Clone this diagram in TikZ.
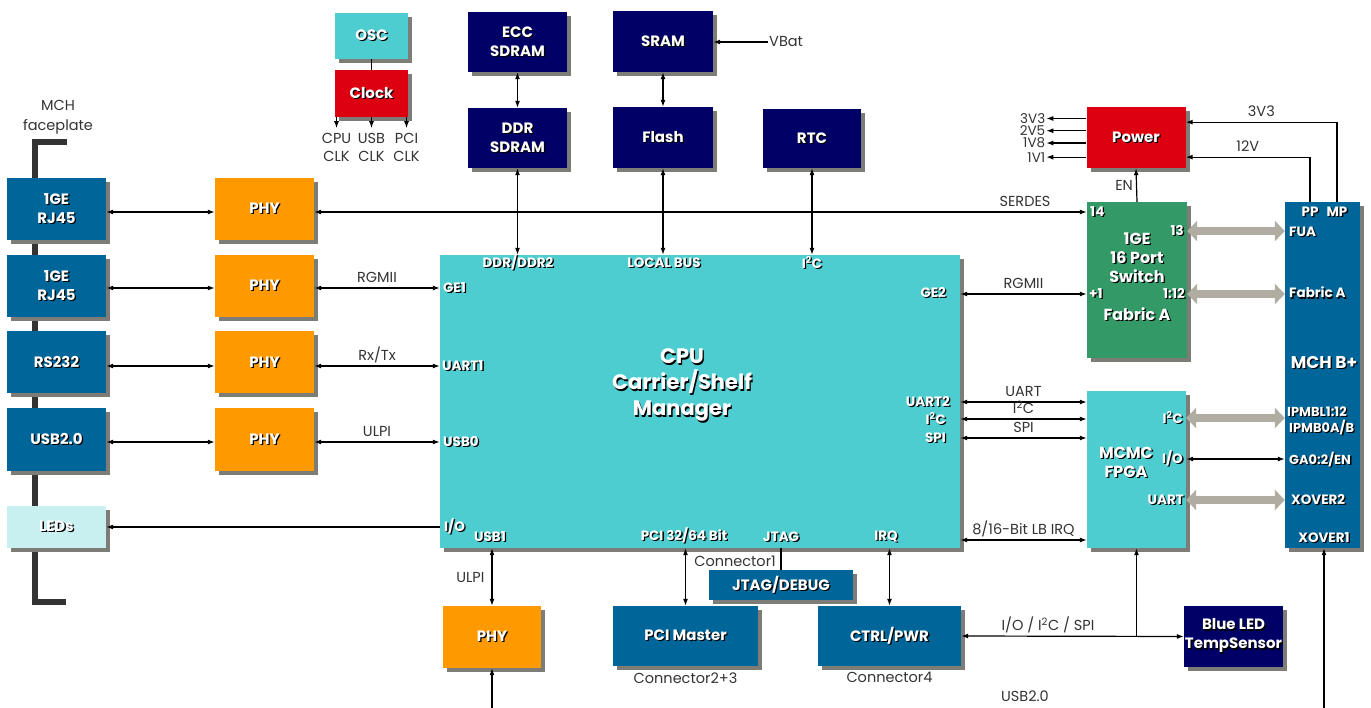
\documentclass[tikz,border=0pt]{standalone}
\usepackage{fontspec}
\setmainfont{Poppins}
\usetikzlibrary{arrows.meta, positioning, calc, shadows}

\definecolor{mchblue}{RGB}{0,102,153}
\definecolor{navybox}{RGB}{0,0,102}
\definecolor{cpucyan}{RGB}{77,205,208}
\definecolor{phyorange}{RGB}{255,153,0}
\definecolor{pwrred}{RGB}{221,0,17}
\definecolor{swgreen}{RGB}{51,153,102}
\definecolor{ledcyan}{RGB}{200,240,240}
\definecolor{shadowgray}{RGB}{125,124,118}
\definecolor{fatgray}{RGB}{176,172,162}
\definecolor{plategray}{RGB}{51,51,51}

% white text with a dark offset copy behind it
\newcommand{\shtxt}[1]{\leavevmode\rlap{\kern1.3pt\raisebox{-1.3pt}{\color{black}#1}}#1}
\newcommand{\boxfont}{\fontsize{15}{19}\selectfont\bfseries}
\newcommand{\titlefont}{\fontsize{16}{19}\selectfont\bfseries}
\newcommand{\portfont}{\fontsize{13.5}{15}\selectfont\bfseries}
\newcommand{\lblfont}{\fontsize{14.5}{18}\selectfont}

\begin{document}
\begin{tikzpicture}[
  x=1pt, y=-1pt,
  blk/.style={rectangle, inner sep=0pt, align=center, text=white, font=\boxfont,
    drop shadow={fill=shadowgray, opacity=1, shadow xshift=4pt, shadow yshift=-4pt}},
  stdbox/.style={blk, minimum width=99pt, minimum height=62pt},
  port/.style={inner sep=1pt, text=white, font=\portfont},
  lbl/.style={inner sep=1pt, text=black!80, font=\lblfont},
  wlbl/.style={lbl, text height=10pt, text depth=3pt},
  wire/.style={line width=1.2pt, -{Latex[length=7pt,width=5pt]}},
  biwire/.style={line width=1.2pt, {Latex[length=7pt,width=5pt]}-{Latex[length=7pt,width=5pt]}},
  fat/.style={line width=8pt, draw=fatgray, {Triangle[length=10pt,width=20pt]}-{Triangle[length=10pt,width=20pt]}}
]
  \useasboundingbox (0,0) rectangle (1371,708);

  % faceplate bracket
  \draw[plategray, line width=6pt] (67,142) -- (34.5,142) -- (34.5,602) -- (66,602);
  \node[lbl, align=center, font=\fontsize{14.5}{20}\selectfont] (face) at (58,117) {MCH\\faceplate};

  % front ports and phys
  \node[stdbox, fill=mchblue] (lan1) at (56.5,209) {\shtxt{1GE}\\\shtxt{RJ45}};
  \node[stdbox, fill=mchblue] (lan2) at (56.5,286) {\shtxt{1GE}\\\shtxt{RJ45}};
  \node[stdbox, fill=mchblue] (rs) at (56.5,362.5) {\shtxt{RS232}};
  \node[stdbox, fill=mchblue] (usb) at (56.5,439.5) {\shtxt{USB2.0}};
  \node[stdbox, fill=ledcyan, minimum height=42pt] (leds) at (56.5,527) {\shtxt{LEDs}};

  \node[stdbox, fill=phyorange] (phy1) at (264.5,209) {\shtxt{PHY}};
  \node[stdbox, fill=phyorange] (phy2) at (264.5,286) {\shtxt{PHY}};
  \node[stdbox, fill=phyorange] (phy3) at (264.5,362.5) {\shtxt{PHY}};
  \node[stdbox, fill=phyorange] (phy4) at (264.5,439.5) {\shtxt{PHY}};

  % clock
  \node[blk, fill=cpucyan, minimum width=73pt, minimum height=46pt] (osc) at (371.5,36) {\shtxt{OSC}};
  \node[blk, fill=pwrred, minimum width=73pt, minimum height=47pt] (clk) at (371.5,93.5) {\shtxt{Clock}};
  \draw[line width=1.2pt] (osc.south) -- (clk.north);
  \foreach \dx/\t in {-35pt/CPU, 0pt/USB, 35pt/PCI}
    \draw[wire] ([xshift=\dx]clk.south) -- ++(0,11)
      node[lbl, below=3pt, align=center, font=\fontsize{14.5}{18}\selectfont] {\t\\CLK};

  % memories
  \node[blk, fill=navybox, minimum width=99pt, minimum height=60pt] (ecc) at (517.5,42) {\shtxt{ECC}\\\shtxt{SDRAM}};
  \node[blk, fill=navybox, minimum width=99pt, minimum height=60pt] (ddr) at (517.5,138) {\shtxt{DDR}\\\shtxt{SDRAM}};
  \node[blk, fill=navybox, minimum width=100pt, minimum height=61pt] (sram) at (663,41.5) {\shtxt{SRAM}};
  \node[blk, fill=navybox, minimum width=100pt, minimum height=61pt] (flash) at (663,137.5) {\shtxt{Flash}};
  \node[blk, fill=navybox, minimum width=98pt, minimum height=59pt] (rtc) at (812,138.5) {\shtxt{RTC}};
  \node[lbl, anchor=west] (vbat) at (768,42) {VBat};
  \draw[wire] (vbat.west) -- (sram.east |- vbat.west);
  \draw[biwire] (ecc.south) -- (ddr.north);
  \draw[biwire] (sram.south) -- (flash.north);

  % cpu
  \node[blk, fill=cpucyan, minimum width=520pt, minimum height=293pt] (cpu) at (700,401.5) {};
  \node[port, align=center, font=\fontsize{21}{26}\selectfont\bfseries] (cputitle) at (682,386)
    {\shtxt{CPU}\\\shtxt{Carrier/Shelf}\\\shtxt{Manager}};
  \node[port] (pddr) at (518,263) {\shtxt{DDR/DDR2}};
  \node[port] (plb) at (664,263) {\shtxt{LOCAL BUS}};
  \node[port] (pi2ctop) at (812,263) {\shtxt{I\textsuperscript{2}C}};
  \node[port, anchor=west] (ge1) at (442,288) {\shtxt{GE1}};
  \node[port, anchor=west] (uart1) at (441,366) {\shtxt{UART1}};
  \node[port, anchor=west] (usb0) at (442,442) {\shtxt{USB0}};
  \node[port, anchor=west] (pio) at (443,527) {\shtxt{I/O}};
  \node[port] (usb1) at (490,537) {\shtxt{USB1}};
  \node[port] (ppci) at (684,536) {\shtxt{PCI 32/64 Bit}};
  \node[port] (jtag) at (781,537) {\shtxt{JTAG}};
  \node[port] (irq) at (886,537) {\shtxt{IRQ}};
  \node[port, anchor=east] (ge2) at (947,293) {\shtxt{GE2}};
  \node[port, anchor=east] (uart2) at (951,402) {\shtxt{UART2}};
  \node[port, anchor=east] (pi2c) at (947,419) {\shtxt{I\textsuperscript{2}C}};
  \node[port, anchor=east] (spi) at (947,438) {\shtxt{SPI}};

  \draw[biwire] (ddr.south) -- (cpu.north -| ddr);
  \draw[biwire] (flash.south) -- (cpu.north -| flash);
  \draw[biwire] (rtc.south) -- (cpu.north -| rtc);

  % power
  \node[blk, fill=pwrred, minimum width=99pt, minimum height=61pt] (pwr) at (1136,137.5) {\shtxt{Power}};
  \foreach \v/\f in {3V3/0.19, 2V5/0.39, 1V8/0.59, 1V1/0.82}
    \draw[wire] ($(pwr.north west)!\f!(pwr.south west)$) -- ++(-40,0)
      node[lbl, left, inner sep=0.5pt, font=\fontsize{13.5}{13.5}\selectfont] {\v};

  % switch
  \node[blk, fill=swgreen, minimum width=100pt, minimum height=156pt] (sw) at (1137,280) {};
  \node[port, align=center, font=\titlefont] (swtitle) at (1137,258) {\shtxt{1GE}\\\shtxt{16 Port}\\\shtxt{Switch}};
  \node[port, font=\titlefont] (swfab) at (1137,315) {\shtxt{Fabric A}};
  \node[port, anchor=west] (s14) at (1089,212) {\shtxt{14}};
  \node[port, anchor=east] (s13) at (1185,231) {\shtxt{13}};
  \node[port, anchor=west] (s1) at (1088,294) {\shtxt{+1}};
  \node[port, anchor=east] (s112) at (1186,294) {\shtxt{1:12}};

  % fpga
  \node[blk, fill=cpucyan, minimum width=99pt, minimum height=157pt] (fpga) at (1136.5,469.5) {};
  \node[port, align=center, font=\titlefont] (fpgatitle) at (1126,463) {\shtxt{MCMC}\\\shtxt{FPGA}};
  \node[port, anchor=east] (fi2c) at (1184,418) {\shtxt{I\textsuperscript{2}C}};
  \node[port, anchor=east] (fio) at (1184,459) {\shtxt{I/O}};
  \node[port, anchor=east] (fuart) at (1185,500) {\shtxt{UART}};

  % mch connector
  \node[blk, fill=mchblue, minimum width=75pt, minimum height=346pt] (mch) at (1322.5,375) {};
  \node[port, font=\fontsize{17}{20}\selectfont\bfseries] (mchtitle) at (1324,363) {\shtxt{MCH B+}};
  \node[port] (pp) at (1310,212) {\shtxt{PP}};
  \node[port] (mp) at (1337,212) {\shtxt{MP}};
  \node[port, anchor=west] (fua) at (1288,232) {\shtxt{FUA}};
  \node[port, anchor=west] (mfab) at (1288,293) {\shtxt{Fabric A}};
  \node[port, anchor=west, font=\fontsize{13}{15}\selectfont\bfseries] (ipmbl) at (1286,412) {\shtxt{IPMBL1:12}};
  \node[port, anchor=west, font=\fontsize{13}{15}\selectfont\bfseries] (ipmb) at (1288,428) {\shtxt{IPMB0A/B}};
  \node[port, anchor=west, font=\fontsize{13}{15}\selectfont\bfseries] (ga) at (1288,460) {\shtxt{GA0:2/EN}};
  \node[port, anchor=west] (xo2) at (1290,500) {\shtxt{XOVER2}};
  \node[port] (xo1) at (1324,538) {\shtxt{XOVER1}};

  \draw[wire] (mch.north -| mp) |- ($(pwr.north east)!0.25!(pwr.south east)$) node[wlbl, pos=0.75, above=1pt] {3V3};
  \draw[wire] (mch.north -| pp) |- ($(pwr.north east)!0.82!(pwr.south east)$) node[wlbl, pos=0.75, above=1pt] {12V};
  \draw[wire] (sw.north) -- (pwr.south) node[lbl, midway, left=2pt] {EN};

  % front side links
  \draw[biwire] (lan1.east |- s14) -- (phy1.west |- s14);
  \draw[biwire] (lan2.east |- ge1) -- (phy2.west |- ge1);
  \draw[biwire] (rs.east |- uart1) -- (phy3.west |- uart1);
  \draw[biwire] (usb.east |- usb0) -- (phy4.west |- usb0);
  \draw[biwire] (phy1.east |- s14) -- (sw.west |- s14) node[wlbl, pos=0.92, above=1pt] {SERDES};
  \draw[biwire] (phy2.east |- ge1) -- (cpu.west |- ge1) node[wlbl, midway, above=1pt] {RGMII};
  \draw[biwire] (phy3.east |- uart1) -- (cpu.west |- uart1) node[wlbl, midway, above=1pt] {Rx/Tx};
  \draw[biwire] (phy4.east |- usb0) -- (cpu.west |- usb0) node[wlbl, midway, above=1pt] {ULPI};
  \draw[wire] (cpu.west |- pio) -- (leds.east |- pio);

  % cpu to switch and fpga
  \draw[biwire] (cpu.east |- s1) -- (sw.west |- s1) node[wlbl, midway, above=1pt] {RGMII};
  \draw[biwire] (cpu.east |- uart2) -- (fpga.west |- uart2) node[wlbl, midway, above=1pt] {UART};
  \draw[biwire] (cpu.east |- pi2c) -- (fpga.west |- pi2c) node[wlbl, midway, above=1pt] {I\textsuperscript{2}C};
  \draw[biwire] (cpu.east |- spi) -- (fpga.west |- spi) node[wlbl, midway, above=1pt] {SPI};
  \draw[biwire] ([yshift=-3pt]cpu.east |- irq) -- ([yshift=-3pt]fpga.west |- irq) node[wlbl, midway, above=1pt] {8/16-Bit LB IRQ};

  % switch and fpga to mch
  \draw[fat] (sw.east |- s13) -- (mch.west |- s13);
  \draw[fat] (sw.east |- s112) -- (mch.west |- s112);
  \draw[fat] (fpga.east |- fi2c) -- (mch.west |- fi2c);
  \draw[biwire] (fpga.east |- fio) -- (mch.west |- fio);
  \draw[fat] (fpga.east |- fuart) -- (mch.west |- fuart);

  % bottom row
  \node[stdbox, fill=phyorange, minimum width=98pt] (usbphy) at (492,637) {\shtxt{PHY}};
  \node[blk, fill=mchblue, minimum width=145pt, minimum height=60pt] (pcim) at (685.5,636) {\shtxt{PCI Master}};
  \node[blk, fill=mchblue, minimum width=144pt, minimum height=30pt] (jd) at (781,585) {\shtxt{JTAG/DEBUG}};
  \node[blk, fill=mchblue, minimum width=143pt, minimum height=60pt] (ctrl) at (889.5,636) {\shtxt{CTRL/PWR}};
  \node[blk, fill=navybox, minimum width=99pt, minimum height=61pt] (bled) at (1233.5,636.5) {\shtxt{Blue LED}\\\shtxt{TempSensor}};
  \node[lbl, below=5pt of pcim] (con23) {Connector2+3};
  \node[lbl, below=5pt of ctrl] (con4) {Connector4};
  \node[lbl, anchor=east] (con1) at (777,561) {Connector1};
  \node[lbl] (usblbl) at (1025,696) {USB2.0};

  \draw[biwire] (cpu.south -| usbphy) -- (usbphy.north) node[lbl, midway, left=6pt] {ULPI};
  \draw[biwire] (cpu.south -| pcim) -- (pcim.north);
  \draw[line width=1.2pt] (cpu.south -| jtag) -- (jd.north -| jtag);
  \draw[biwire] (cpu.south -| ctrl) -- (ctrl.north);
  \draw[biwire] (ctrl.east) -- (bled.west) node[wlbl, pos=0.39, above=1pt] {I/O / I\textsuperscript{2}C / SPI};
  \coordinate (tap) at (fpga.south |- ctrl.east);
  \draw[wire] (tap) -- (fpga.south);

  \coordinate (usbin) at (492,708);
  \coordinate (mchin) at (1324,708);
  \draw[wire] (usbin) -- (usbphy.south);
  \draw[wire] (mchin) -- (mch.south -| mchin);
\end{tikzpicture}
\end{document}
